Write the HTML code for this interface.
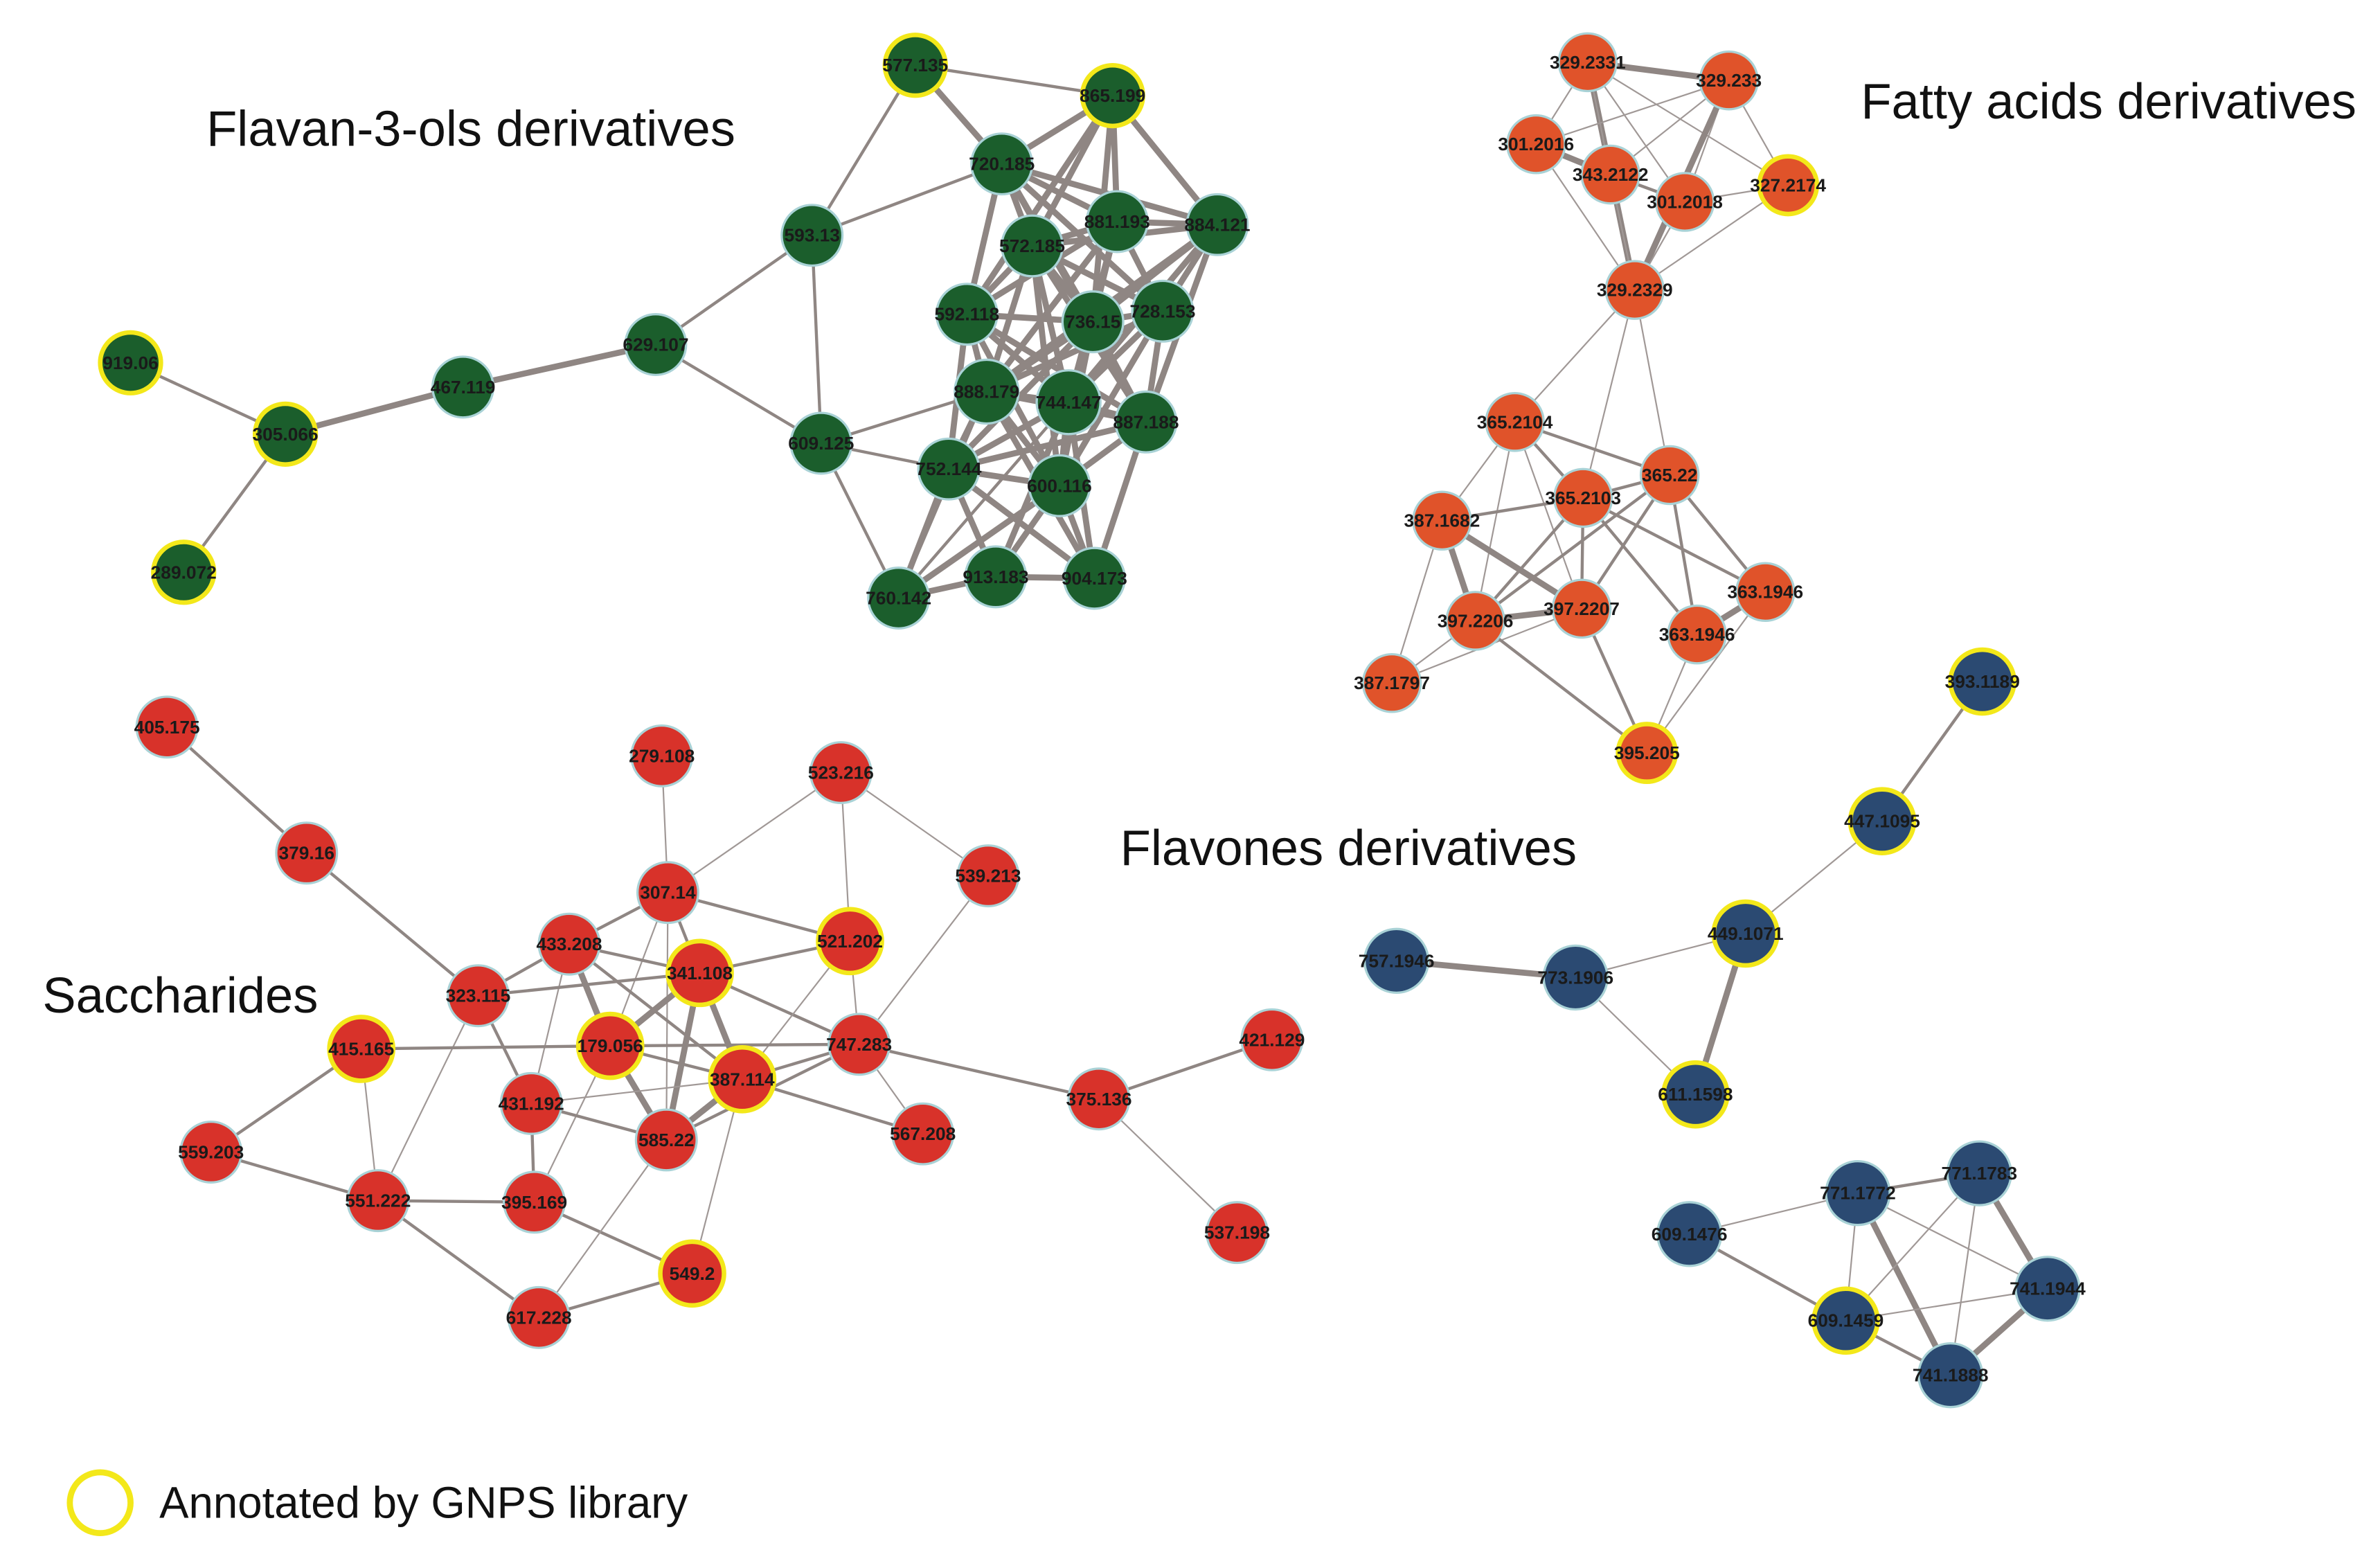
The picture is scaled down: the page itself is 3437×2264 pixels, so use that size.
<!DOCTYPE html>
<html><head><meta charset="utf-8"><style>
html,body{margin:0;padding:0;background:#fff}
svg{display:block}
line{stroke:#8f8683;stroke-linecap:round}
.t{stroke-width:1;stroke:#a09896}.m{stroke-width:2}.k{stroke-width:4}
circle{stroke:#a9d2d6;stroke-width:1.5}
.y{stroke:#f3e81a;stroke-width:3}
.g{fill:#1b5e2c}.o{fill:#e0532a}.r{fill:#d8322a}.b{fill:#2b4a72}
.nl{font-family:"Liberation Sans",sans-serif;font-weight:bold;font-size:12px;fill:#1a1a1a;text-anchor:middle;dominant-baseline:central}
.h{font-family:"Liberation Sans",sans-serif;font-size:33px;fill:#111}
</style></head><body>
<svg width="3437" height="2264" viewBox="0 0 1568 1033" preserveAspectRatio="none" xmlns="http://www.w3.org/2000/svg">
<!-- green edges -->
<g>
<line class="m" x1="86" y1="239" x2="188" y2="286"/>
<line class="m" x1="121" y1="377" x2="188" y2="286"/>
<line class="k" x1="188" y1="286" x2="305" y2="255"/>
<line class="k" x1="305" y1="255" x2="432" y2="227"/>
<line class="m" x1="432" y1="227" x2="535" y2="155"/>
<line class="m" x1="432" y1="227" x2="541" y2="292"/>
<line class="m" x1="535" y1="155" x2="541" y2="292"/>
<line class="m" x1="535" y1="155" x2="603" y2="43"/>
<line class="m" x1="535" y1="155" x2="660" y2="108"/>
<line class="m" x1="603" y1="43" x2="733" y2="63"/>
<line class="k" x1="603" y1="43" x2="660" y2="108"/>
<line class="m" x1="541" y1="292" x2="625" y2="309"/>
<line class="m" x1="541" y1="292" x2="592" y2="394"/>
<line class="m" x1="541" y1="292" x2="650" y2="258"/>
<line class="k" x1="660" y1="108" x2="733" y2="63"/>
<line class="k" x1="660" y1="108" x2="736" y2="146"/>
<line class="k" x1="660" y1="108" x2="802" y2="148"/>
<line class="k" x1="660" y1="108" x2="680" y2="162"/>
<line class="k" x1="660" y1="108" x2="637" y2="207"/>
<line class="k" x1="660" y1="108" x2="720" y2="212"/>
<line class="k" x1="660" y1="108" x2="766" y2="205"/>
<line class="k" x1="660" y1="108" x2="755" y2="278"/>
<line class="k" x1="733" y1="63" x2="736" y2="146"/>
<line class="k" x1="733" y1="63" x2="802" y2="148"/>
<line class="k" x1="733" y1="63" x2="680" y2="162"/>
<line class="k" x1="733" y1="63" x2="720" y2="212"/>
<line class="k" x1="733" y1="63" x2="637" y2="207"/>
<line class="k" x1="736" y1="146" x2="802" y2="148"/>
<line class="k" x1="736" y1="146" x2="680" y2="162"/>
<line class="k" x1="736" y1="146" x2="637" y2="207"/>
<line class="k" x1="736" y1="146" x2="720" y2="212"/>
<line class="k" x1="736" y1="146" x2="766" y2="205"/>
<line class="k" x1="736" y1="146" x2="704" y2="265"/>
<line class="k" x1="736" y1="146" x2="650" y2="258"/>
<line class="k" x1="802" y1="148" x2="680" y2="162"/>
<line class="k" x1="802" y1="148" x2="720" y2="212"/>
<line class="k" x1="802" y1="148" x2="766" y2="205"/>
<line class="k" x1="802" y1="148" x2="650" y2="258"/>
<line class="k" x1="802" y1="148" x2="704" y2="265"/>
<line class="k" x1="802" y1="148" x2="755" y2="278"/>
<line class="k" x1="680" y1="162" x2="637" y2="207"/>
<line class="k" x1="680" y1="162" x2="720" y2="212"/>
<line class="k" x1="680" y1="162" x2="766" y2="205"/>
<line class="k" x1="680" y1="162" x2="650" y2="258"/>
<line class="k" x1="680" y1="162" x2="704" y2="265"/>
<line class="k" x1="680" y1="162" x2="755" y2="278"/>
<line class="k" x1="680" y1="162" x2="698" y2="320"/>
<line class="k" x1="637" y1="207" x2="720" y2="212"/>
<line class="k" x1="637" y1="207" x2="650" y2="258"/>
<line class="k" x1="637" y1="207" x2="704" y2="265"/>
<line class="k" x1="637" y1="207" x2="625" y2="309"/>
<line class="k" x1="637" y1="207" x2="698" y2="320"/>
<line class="k" x1="637" y1="207" x2="755" y2="278"/>
<line class="k" x1="720" y1="212" x2="766" y2="205"/>
<line class="k" x1="720" y1="212" x2="650" y2="258"/>
<line class="k" x1="720" y1="212" x2="704" y2="265"/>
<line class="k" x1="720" y1="212" x2="755" y2="278"/>
<line class="k" x1="720" y1="212" x2="625" y2="309"/>
<line class="k" x1="720" y1="212" x2="698" y2="320"/>
<line class="k" x1="766" y1="205" x2="704" y2="265"/>
<line class="k" x1="766" y1="205" x2="755" y2="278"/>
<line class="k" x1="766" y1="205" x2="650" y2="258"/>
<line class="k" x1="766" y1="205" x2="698" y2="320"/>
<line class="k" x1="650" y1="258" x2="704" y2="265"/>
<line class="k" x1="650" y1="258" x2="625" y2="309"/>
<line class="k" x1="650" y1="258" x2="698" y2="320"/>
<line class="k" x1="650" y1="258" x2="755" y2="278"/>
<line class="k" x1="650" y1="258" x2="721" y2="381"/>
<line class="k" x1="704" y1="265" x2="755" y2="278"/>
<line class="k" x1="704" y1="265" x2="625" y2="309"/>
<line class="k" x1="704" y1="265" x2="698" y2="320"/>
<line class="k" x1="704" y1="265" x2="656" y2="380"/>
<line class="k" x1="704" y1="265" x2="721" y2="381"/>
<line class="k" x1="755" y1="278" x2="698" y2="320"/>
<line class="k" x1="755" y1="278" x2="721" y2="381"/>
<line class="k" x1="755" y1="278" x2="625" y2="309"/>
<line class="k" x1="625" y1="309" x2="698" y2="320"/>
<line class="k" x1="625" y1="309" x2="592" y2="394"/>
<line class="k" x1="625" y1="309" x2="656" y2="380"/>
<line class="k" x1="625" y1="309" x2="721" y2="381"/>
<line class="k" x1="698" y1="320" x2="592" y2="394"/>
<line class="k" x1="698" y1="320" x2="656" y2="380"/>
<line class="k" x1="698" y1="320" x2="721" y2="381"/>
<line class="k" x1="592" y1="394" x2="656" y2="380"/>
<line class="k" x1="656" y1="380" x2="721" y2="381"/>
<line class="m" x1="592" y1="394" x2="650" y2="258"/>
<line class="m" x1="592" y1="394" x2="704" y2="265"/>
</g>
<!-- orange edges -->
<g>
<line class="k" x1="1046" y1="41" x2="1139" y2="53"/>
<line class="k" x1="1046" y1="41" x2="1077" y2="191"/>
<line class="t" x1="1046" y1="41" x2="1012" y2="95"/>
<line class="t" x1="1046" y1="41" x2="1110" y2="133"/>
<line class="t" x1="1046" y1="41" x2="1178" y2="122"/>
<line class="t" x1="1046" y1="41" x2="1061" y2="115"/>
<line class="t" x1="1139" y1="53" x2="1012" y2="95"/>
<line class="t" x1="1139" y1="53" x2="1061" y2="115"/>
<line class="t" x1="1139" y1="53" x2="1178" y2="122"/>
<line class="t" x1="1139" y1="53" x2="1110" y2="133"/>
<line class="k" x1="1139" y1="53" x2="1077" y2="191"/>
<line class="k" x1="1012" y1="95" x2="1061" y2="115"/>
<line class="t" x1="1012" y1="95" x2="1077" y2="191"/>
<line class="m" x1="1061" y1="115" x2="1110" y2="133"/>
<line class="t" x1="1061" y1="115" x2="1077" y2="191"/>
<line class="t" x1="1110" y1="133" x2="1178" y2="122"/>
<line class="t" x1="1110" y1="133" x2="1077" y2="191"/>
<line class="t" x1="1178" y1="122" x2="1077" y2="191"/>
<line class="t" x1="1077" y1="191" x2="998" y2="278"/>
<line class="t" x1="1077" y1="191" x2="1043" y2="328"/>
<line class="t" x1="1077" y1="191" x2="1100" y2="313"/>
<line class="m" x1="998" y1="278" x2="1100" y2="313"/>
<line class="m" x1="998" y1="278" x2="1043" y2="328"/>
<line class="t" x1="998" y1="278" x2="950" y2="343"/>
<line class="t" x1="998" y1="278" x2="972" y2="409"/>
<line class="t" x1="998" y1="278" x2="1042" y2="401"/>
<line class="m" x1="1100" y1="313" x2="1043" y2="328"/>
<line class="m" x1="950" y1="343" x2="1043" y2="328"/>
<line class="k" x1="950" y1="343" x2="972" y2="409"/>
<line class="k" x1="950" y1="343" x2="1042" y2="401"/>
<line class="t" x1="950" y1="343" x2="917" y2="450"/>
<line class="m" x1="1043" y1="328" x2="972" y2="409"/>
<line class="m" x1="1043" y1="328" x2="1042" y2="401"/>
<line class="m" x1="1043" y1="328" x2="1118" y2="418"/>
<line class="m" x1="1043" y1="328" x2="1163" y2="390"/>
<line class="m" x1="1100" y1="313" x2="972" y2="409"/>
<line class="m" x1="1100" y1="313" x2="1042" y2="401"/>
<line class="m" x1="1100" y1="313" x2="1118" y2="418"/>
<line class="m" x1="1100" y1="313" x2="1163" y2="390"/>
<line class="k" x1="972" y1="409" x2="1042" y2="401"/>
<line class="t" x1="972" y1="409" x2="917" y2="450"/>
<line class="t" x1="1042" y1="401" x2="917" y2="450"/>
<line class="m" x1="972" y1="409" x2="1085" y2="496"/>
<line class="m" x1="1042" y1="401" x2="1085" y2="496"/>
<line class="k" x1="1118" y1="418" x2="1163" y2="390"/>
<line class="t" x1="1118" y1="418" x2="1085" y2="496"/>
<line class="t" x1="1163" y1="390" x2="1085" y2="496"/>
</g>
<!-- red edges -->
<g>
<line class="m" x1="110" y1="479" x2="202" y2="562"/>
<line class="m" x1="202" y1="562" x2="315" y2="656"/>
<line class="t" x1="436" y1="498" x2="440" y2="588"/>
<line class="t" x1="554" y1="509" x2="440" y2="588"/>
<line class="t" x1="554" y1="509" x2="560" y2="620"/>
<line class="t" x1="554" y1="509" x2="651" y2="577"/>
<line class="t" x1="651" y1="577" x2="566" y2="688"/>
<line class="m" x1="440" y1="588" x2="375" y2="622"/>
<line class="m" x1="440" y1="588" x2="560" y2="620"/>
<line class="m" x1="440" y1="588" x2="461" y2="641"/>
<line class="t" x1="440" y1="588" x2="402" y2="689"/>
<line class="t" x1="440" y1="588" x2="439" y2="751"/>
<line class="m" x1="375" y1="622" x2="315" y2="656"/>
<line class="m" x1="375" y1="622" x2="461" y2="641"/>
<line class="k" x1="375" y1="622" x2="402" y2="689"/>
<line class="m" x1="375" y1="622" x2="489" y2="711"/>
<line class="t" x1="375" y1="622" x2="350" y2="727"/>
<line class="m" x1="461" y1="641" x2="560" y2="620"/>
<line class="m" x1="461" y1="641" x2="315" y2="656"/>
<line class="k" x1="461" y1="641" x2="402" y2="689"/>
<line class="k" x1="461" y1="641" x2="489" y2="711"/>
<line class="k" x1="461" y1="641" x2="439" y2="751"/>
<line class="m" x1="461" y1="641" x2="566" y2="688"/>
<line class="t" x1="560" y1="620" x2="566" y2="688"/>
<line class="t" x1="560" y1="620" x2="489" y2="711"/>
<line class="m" x1="315" y1="656" x2="350" y2="727"/>
<line class="t" x1="315" y1="656" x2="249" y2="791"/>
<line class="m" x1="238" y1="691" x2="402" y2="689"/>
<line class="t" x1="238" y1="691" x2="249" y2="791"/>
<line class="m" x1="238" y1="691" x2="139" y2="759"/>
<line class="m" x1="402" y1="689" x2="566" y2="688"/>
<line class="m" x1="402" y1="689" x2="489" y2="711"/>
<line class="k" x1="402" y1="689" x2="439" y2="751"/>
<line class="t" x1="402" y1="689" x2="352" y2="792"/>
<line class="t" x1="350" y1="727" x2="489" y2="711"/>
<line class="m" x1="350" y1="727" x2="439" y2="751"/>
<line class="m" x1="350" y1="727" x2="352" y2="792"/>
<line class="m" x1="489" y1="711" x2="566" y2="688"/>
<line class="k" x1="489" y1="711" x2="439" y2="751"/>
<line class="m" x1="489" y1="711" x2="608" y2="747"/>
<line class="t" x1="489" y1="711" x2="456" y2="839"/>
<line class="m" x1="439" y1="751" x2="566" y2="688"/>
<line class="t" x1="566" y1="688" x2="608" y2="747"/>
<line class="m" x1="566" y1="688" x2="724" y2="724"/>
<line class="m" x1="724" y1="724" x2="838" y2="685"/>
<line class="t" x1="724" y1="724" x2="815" y2="812"/>
<line class="m" x1="139" y1="759" x2="249" y2="791"/>
<line class="m" x1="249" y1="791" x2="352" y2="792"/>
<line class="m" x1="249" y1="791" x2="355" y2="868"/>
<line class="m" x1="352" y1="792" x2="456" y2="839"/>
<line class="t" x1="439" y1="751" x2="355" y2="868"/>
<line class="m" x1="355" y1="868" x2="456" y2="839"/>
</g>
<!-- blue edges -->
<g>
<line class="m" x1="1306" y1="449" x2="1240" y2="541"/>
<line class="t" x1="1240" y1="541" x2="1150" y2="615"/>
<line class="t" x1="1150" y1="615" x2="1038" y2="644"/>
<line class="k" x1="1150" y1="615" x2="1117" y2="721"/>
<line class="k" x1="920" y1="633" x2="1038" y2="644"/>
<line class="t" x1="1038" y1="644" x2="1117" y2="721"/>
<line class="m" x1="1224" y1="786" x2="1304" y2="773"/>
<line class="t" x1="1224" y1="786" x2="1113" y2="813"/>
<line class="t" x1="1224" y1="786" x2="1349" y2="849"/>
<line class="t" x1="1224" y1="786" x2="1216" y2="870"/>
<line class="k" x1="1224" y1="786" x2="1285" y2="906"/>
<line class="k" x1="1304" y1="773" x2="1349" y2="849"/>
<line class="t" x1="1304" y1="773" x2="1216" y2="870"/>
<line class="t" x1="1304" y1="773" x2="1285" y2="906"/>
<line class="m" x1="1113" y1="813" x2="1216" y2="870"/>
<line class="t" x1="1216" y1="870" x2="1349" y2="849"/>
<line class="m" x1="1216" y1="870" x2="1285" y2="906"/>
<line class="k" x1="1349" y1="849" x2="1285" y2="906"/>
</g>
<!-- green nodes -->
<g>
<circle class="g y" cx="603" cy="43" r="20"/><text class="nl" x="603" y="43">577.135</text>
<circle class="g y" cx="733" cy="63" r="20"/><text class="nl" x="733" y="63">865.199</text>
<circle class="g" cx="660" cy="108" r="20"/><text class="nl" x="660" y="108">720.185</text>
<circle class="g" cx="535" cy="155" r="20"/><text class="nl" x="535" y="155">593.13</text>
<circle class="g" cx="736" cy="146" r="20"/><text class="nl" x="736" y="146">881.193</text>
<circle class="g" cx="802" cy="148" r="20"/><text class="nl" x="802" y="148">884.121</text>
<circle class="g" cx="680" cy="162" r="20"/><text class="nl" x="680" y="162">572.185</text>
<circle class="g" cx="637" cy="207" r="20"/><text class="nl" x="637" y="207">592.118</text>
<circle class="g" cx="720" cy="212" r="20"/><text class="nl" x="720" y="212">736.15</text>
<circle class="g" cx="766" cy="205" r="20"/><text class="nl" x="766" y="205">728.153</text>
<circle class="g" cx="432" cy="227" r="20"/><text class="nl" x="432" y="227">629.107</text>
<circle class="g" cx="650" cy="258" r="21"/><text class="nl" x="650" y="258">888.179</text>
<circle class="g" cx="704" cy="265" r="21"/><text class="nl" x="704" y="265">744.147</text>
<circle class="g" cx="755" cy="278" r="20"/><text class="nl" x="755" y="278">887.188</text>
<circle class="g" cx="305" cy="255" r="20"/><text class="nl" x="305" y="255">467.119</text>
<circle class="g y" cx="86" cy="239" r="20"/><text class="nl" x="86" y="239">919.06</text>
<circle class="g y" cx="188" cy="286" r="20"/><text class="nl" x="188" y="286">305.066</text>
<circle class="g" cx="541" cy="292" r="20"/><text class="nl" x="541" y="292">609.125</text>
<circle class="g" cx="625" cy="309" r="20"/><text class="nl" x="625" y="309">752.144</text>
<circle class="g" cx="698" cy="320" r="20"/><text class="nl" x="698" y="320">600.116</text>
<circle class="g y" cx="121" cy="377" r="20"/><text class="nl" x="121" y="377">289.072</text>
<circle class="g" cx="592" cy="394" r="20"/><text class="nl" x="592" y="394">760.142</text>
<circle class="g" cx="656" cy="380" r="20"/><text class="nl" x="656" y="380">913.183</text>
<circle class="g" cx="721" cy="381" r="20"/><text class="nl" x="721" y="381">904.173</text>
</g>
<!-- orange nodes -->
<g>
<circle class="o" cx="1046" cy="41" r="19"/><text class="nl" x="1046" y="41">329.2331</text>
<circle class="o" cx="1139" cy="53" r="19"/><text class="nl" x="1139" y="53">329.233</text>
<circle class="o" cx="1012" cy="95" r="19"/><text class="nl" x="1012" y="95">301.2016</text>
<circle class="o" cx="1061" cy="115" r="19"/><text class="nl" x="1061" y="115">343.2122</text>
<circle class="o y" cx="1178" cy="122" r="19"/><text class="nl" x="1178" y="122">327.2174</text>
<circle class="o" cx="1110" cy="133" r="19"/><text class="nl" x="1110" y="133">301.2018</text>
<circle class="o" cx="1077" cy="191" r="19"/><text class="nl" x="1077" y="191">329.2329</text>
<circle class="o" cx="998" cy="278" r="19"/><text class="nl" x="998" y="278">365.2104</text>
<circle class="o" cx="1100" cy="313" r="19"/><text class="nl" x="1100" y="313">365.22</text>
<circle class="o" cx="950" cy="343" r="19"/><text class="nl" x="950" y="343">387.1682</text>
<circle class="o" cx="1043" cy="328" r="19"/><text class="nl" x="1043" y="328">365.2103</text>
<circle class="o" cx="1042" cy="401" r="19"/><text class="nl" x="1042" y="401">397.2207</text>
<circle class="o" cx="972" cy="409" r="19"/><text class="nl" x="972" y="409">397.2206</text>
<circle class="o" cx="1163" cy="390" r="19"/><text class="nl" x="1163" y="390">363.1946</text>
<circle class="o" cx="1118" cy="418" r="19"/><text class="nl" x="1118" y="418">363.1946</text>
<circle class="o" cx="917" cy="450" r="19"/><text class="nl" x="917" y="450">387.1797</text>
<circle class="o y" cx="1085" cy="496" r="19"/><text class="nl" x="1085" y="496">395.205</text>
</g>
<!-- red nodes -->
<g>
<circle class="r" cx="110" cy="479" r="20"/><text class="nl" x="110" y="479">405.175</text>
<circle class="r" cx="436" cy="498" r="20"/><text class="nl" x="436" y="498">279.108</text>
<circle class="r" cx="554" cy="509" r="20"/><text class="nl" x="554" y="509">523.216</text>
<circle class="r" cx="202" cy="562" r="20"/><text class="nl" x="202" y="562">379.16</text>
<circle class="r" cx="651" cy="577" r="20"/><text class="nl" x="651" y="577">539.213</text>
<circle class="r" cx="440" cy="588" r="20"/><text class="nl" x="440" y="588">307.14</text>
<circle class="r y" cx="560" cy="620" r="21"/><text class="nl" x="560" y="620">521.202</text>
<circle class="r" cx="375" cy="622" r="20"/><text class="nl" x="375" y="622">433.208</text>
<circle class="r y" cx="461" cy="641" r="21"/><text class="nl" x="461" y="641">341.108</text>
<circle class="r" cx="315" cy="656" r="20"/><text class="nl" x="315" y="656">323.115</text>
<circle class="r y" cx="238" cy="691" r="21"/><text class="nl" x="238" y="691">415.165</text>
<circle class="r y" cx="402" cy="689" r="21"/><text class="nl" x="402" y="689">179.056</text>
<circle class="r" cx="566" cy="688" r="20"/><text class="nl" x="566" y="688">747.283</text>
<circle class="r" cx="838" cy="685" r="20"/><text class="nl" x="838" y="685">421.129</text>
<circle class="r y" cx="489" cy="711" r="21"/><text class="nl" x="489" y="711">387.114</text>
<circle class="r" cx="350" cy="727" r="20"/><text class="nl" x="350" y="727">431.192</text>
<circle class="r" cx="724" cy="724" r="20"/><text class="nl" x="724" y="724">375.136</text>
<circle class="r" cx="439" cy="751" r="20"/><text class="nl" x="439" y="751">585.22</text>
<circle class="r" cx="608" cy="747" r="20"/><text class="nl" x="608" y="747">567.208</text>
<circle class="r" cx="139" cy="759" r="20"/><text class="nl" x="139" y="759">559.203</text>
<circle class="r" cx="249" cy="791" r="20"/><text class="nl" x="249" y="791">551.222</text>
<circle class="r" cx="352" cy="792" r="20"/><text class="nl" x="352" y="792">395.169</text>
<circle class="r" cx="815" cy="812" r="20"/><text class="nl" x="815" y="812">537.198</text>
<circle class="r y" cx="456" cy="839" r="21"/><text class="nl" x="456" y="839">549.2</text>
<circle class="r" cx="355" cy="868" r="20"/><text class="nl" x="355" y="868">617.228</text>
</g>
<!-- blue nodes -->
<g>
<circle class="b y" cx="1306" cy="449" r="21"/><text class="nl" x="1306" y="449">393.1189</text>
<circle class="b y" cx="1240" cy="541" r="21"/><text class="nl" x="1240" y="541">447.1095</text>
<circle class="b y" cx="1150" cy="615" r="21"/><text class="nl" x="1150" y="615">449.1071</text>
<circle class="b" cx="920" cy="633" r="21"/><text class="nl" x="920" y="633">757.1946</text>
<circle class="b" cx="1038" cy="644" r="21"/><text class="nl" x="1038" y="644">773.1906</text>
<circle class="b y" cx="1117" cy="721" r="21"/><text class="nl" x="1117" y="721">611.1598</text>
<circle class="b" cx="1224" cy="786" r="21"/><text class="nl" x="1224" y="786">771.1772</text>
<circle class="b" cx="1304" cy="773" r="21"/><text class="nl" x="1304" y="773">771.1783</text>
<circle class="b" cx="1113" cy="813" r="21"/><text class="nl" x="1113" y="813">609.1476</text>
<circle class="b" cx="1349" cy="849" r="21"/><text class="nl" x="1349" y="849">741.1944</text>
<circle class="b y" cx="1216" cy="870" r="21"/><text class="nl" x="1216" y="870">609.1459</text>
<circle class="b" cx="1285" cy="906" r="21"/><text class="nl" x="1285" y="906">741.1888</text>
</g>
<!-- titles -->
<text class="h" x="136" y="96">Flavan-3-ols derivatives</text>
<text class="h" x="1226" y="78">Fatty acids derivatives</text>
<text class="h" x="28" y="667">Saccharides</text>
<text class="h" x="738" y="570">Flavones derivatives</text>
<circle cx="66" cy="990" r="20" style="fill:none;stroke:#f3e81a;stroke-width:4"/>
<text class="h" x="105" y="1000" style="font-size:29px">Annotated by GNPS library</text>
</svg>
</body></html>
